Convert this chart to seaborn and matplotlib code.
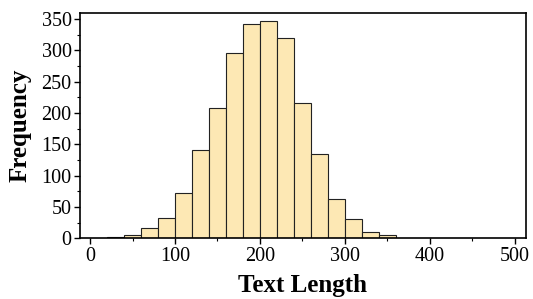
import matplotlib
matplotlib.use("Agg")
import matplotlib.pyplot as plt
import seaborn as sns
import numpy as np
import pandas as pd
from matplotlib.ticker import MultipleLocator

# Histogram bins (text length) and counts
bin_left = [20, 40, 60, 80, 100, 120, 140, 160, 180, 200, 220, 240, 260, 280, 300, 320, 340]
counts = [2, 6, 16, 33, 72, 141, 207, 295, 342, 347, 320, 216, 134, 62, 31, 10, 5]
bin_width = 20
x_ticks = [0, 100, 200, 300, 400, 500]
y_ticks = [0, 50, 100, 150, 200, 250, 300, 350]

sns.set_theme(style="white")
plt.rcParams['font.family'] = ['Liberation Serif', 'DejaVu Serif']
plt.rcParams['text.color'] = 'black'
plt.rcParams['axes.labelcolor'] = 'black'

df = pd.DataFrame({"len": np.array(bin_left) + bin_width / 2, "count": counts})
edges = list(bin_left) + [bin_left[-1] + bin_width]

fig = plt.figure(figsize=(5.33, 2.99), dpi=100)
ax = fig.add_axes([0.150, 0.203, 0.836, 0.755])

sns.histplot(data=df, x="len", weights="count", bins=edges, ax=ax,
             color="#FDE8B4", alpha=1.0, edgecolor="#222222", linewidth=0.8)

ax.set_xlim(-12, 513)
ax.set_ylim(0, 360)
ax.set_xticks(x_ticks)
ax.set_yticks(y_ticks)
ax.xaxis.set_minor_locator(MultipleLocator(50))
ax.yaxis.set_minor_locator(MultipleLocator(25))
ax.tick_params(axis='both', which='major', direction='out', length=4.5, width=1,
               labelsize=14.5, colors='black', pad=1.5, bottom=True, left=True)
ax.tick_params(axis='both', which='minor', direction='out', length=2.5, width=0.8,
               colors='black', bottom=True, left=True)
for s in ax.spines.values():
    s.set_visible(True)
    s.set_color('black')
    s.set_linewidth(1.2)

ax.set_xlabel("Text Length", fontsize=18, fontweight='bold', labelpad=6, color='black')
ax.set_ylabel("Frequency", fontsize=18, fontweight='bold', labelpad=7, color='black')
ax.grid(False)

fig.savefig("out.png", dpi=100)
